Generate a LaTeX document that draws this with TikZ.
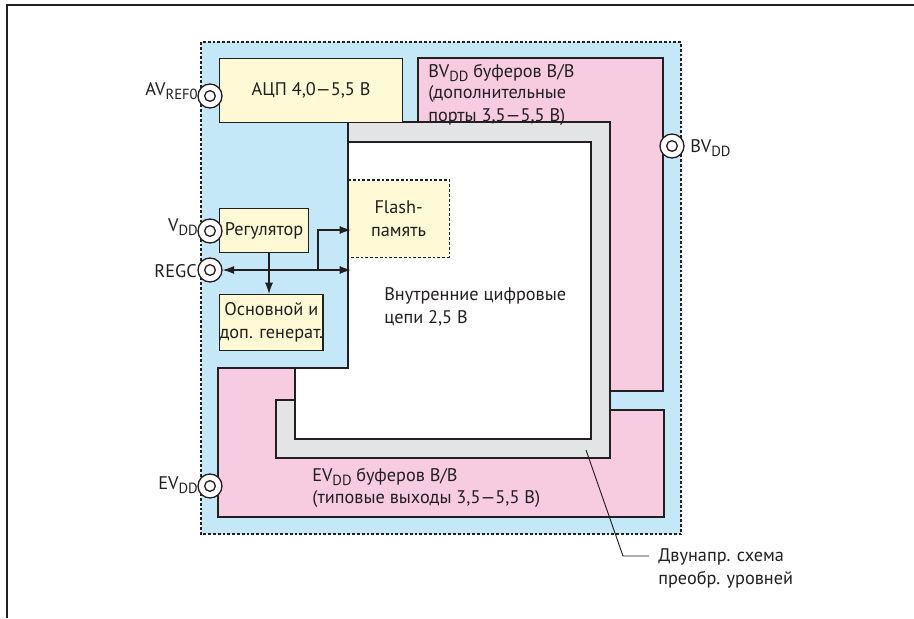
\documentclass[tikz,border=0pt]{standalone}
\usepackage{fontspec}
\setmainfont{PT Sans}
\usetikzlibrary{arrows.meta}
\definecolor{bluebg}{HTML}{C5E8F9}
\definecolor{pinkbg}{HTML}{F7CBE0}
\definecolor{yellowbg}{HTML}{FFF9D6}
\definecolor{graybg}{HTML}{E3E4E6}
\definecolor{ink}{HTML}{231F20}
\newcommand{\txtsize}{\fontsize{13.7pt}{16.9pt}\selectfont}
\tikzset{
  region/.style={draw=ink,line width=0.85pt},
  dotline/.style={draw=ink,line width=0.85pt,dash pattern=on 2.1pt off 1.5pt},
  blockbox/.style={draw=ink,line width=0.85pt,fill=yellowbg,inner sep=0pt,align=center,text=ink,anchor=north west,font=\txtsize},
  pin/.style={circle,draw=ink,line width=1pt,fill=white,minimum size=18pt,inner sep=0pt},
  pindot/.style={circle,draw=ink,line width=1pt,fill=white,minimum size=8pt,inner sep=0pt},
  lbl/.style={text=ink,inner sep=0pt,font=\txtsize,align=left,anchor=base west},
  lblr/.style={text=ink,inner sep=0pt,font=\txtsize,anchor=base east},
  wire/.style={draw=ink,line width=0.85pt},
  tip/.style={-{Latex[length=8.5pt,width=6pt]}},
}
\newcommand{\subs}[1]{\raisebox{-3.4pt}{\fontsize{11pt}{11pt}\selectfont #1}}
\begin{document}
\begin{tikzpicture}[x=0.75pt,y=-0.75pt]
\useasboundingbox (0,0) rectangle (914,618);
\fill[white] (0,0) rectangle (914,618);
% outer frame
\coordinate (fa) at (7,618);
\coordinate (fb) at (7,5);
\coordinate (fc) at (914,5);
\draw[ink,line width=1.1pt] (fa) -- (fb) -- (fc);
% chip
\path[fill=bluebg,dotline] (201,42) rectangle (681,534);
% pink
\draw[region,fill=pinkbg] (418,58) rectangle (663,391);
\draw[region,fill=pinkbg] (218,368) -- (295,368) -- (295,410) -- (664,410) -- (664,517) -- (218,517) -- cycle;
% core white
\fill[white] (348,142) -- (591,142) -- (591,439) -- (295,439) -- (295,368) -- (348,368) -- cycle;
% gray ring
\draw[region,fill=graybg] (348,122) -- (610,122) -- (610,458) -- (276,458) -- (276,400) -- (295,400) -- (295,439) -- (591,439) -- (591,142) -- (348,142) -- cycle;
\draw[region] (348,142) -- (348,368) -- (295,368) -- (295,400);
% blocks
\node[blockbox,minimum width=183pt*0.75,minimum height=64pt*0.75] (adc) at (219,58) {АЦП 4,0—5,5 В};
\node[blockbox,draw=none,minimum width=100pt*0.75,minimum height=76pt*0.75] (flash) at (348,180) {Flash-\\память};
\path[dotline] (flash.north west) -- (flash.north east) -- (flash.south east) -- (flash.south west) -- cycle;
\node[blockbox,minimum width=89pt*0.75,minimum height=44pt*0.75] (reg) at (219,208) {Регулятор};
\node[blockbox,minimum width=102pt*0.75,minimum height=56pt*0.75] (osc) at (219,294) {Основной и\\доп. генерат.};
% pins
\foreach \n/\x/\y in {av/210/96, vdd/210/231, regc/210/270, ev/210/486, bv/672/146}{
  \node[pin] (\n) at (\x,\y) {};
  \node[pindot] at (\n) {};
}
% connectors
\coordinate (busR) at (351,270);
\coordinate (busM) at (318,270);
\coordinate (flashin) at (351,230);
\coordinate (regout) at (269,252);
\coordinate (oscin) at (269,294);
\draw[wire,tip] (busM) -- (regc.east);
\draw[wire,tip] (busM) -- (busR);
\draw[wire,tip] (busM) |- (flashin);
\draw[wire,tip] (regout) -- (oscin);
% leader
\coordinate (la) at (586,450);
\coordinate (lb) at (623,556);
\coordinate (lc) at (649,556);
\draw[ink,line width=0.7pt] (la) -- (lb) -- (lc);
% text
\node[lbl] at (428,77) {BV\subs{DD} буферов В/В};
\node[lbl] at (428,121) {(дополнительные\\порты 3,5—5,5 В)};
\node[lbl] at (384,323) {Внутренние цифровые\\цепи 2,5 В};
\node[lbl] at (312,481) {EV\subs{DD} буферов В/В};
\node[lbl] at (312,503) {(типовые выходы 3,5—5,5 В)};
\node[lbl] at (658,584) {Двунапр. схема\\преобр. уровней};
\node[lblr] at (198,95) {AV\subs{REF0}};
\node[lblr] at (198,231) {V\subs{DD}};
\node[lblr] at (197,277) {REGC};
\node[lblr] at (198,489) {EV\subs{DD}};
\node[lbl] at (690,152) {BV\subs{DD}};
\end{tikzpicture}
\end{document}
